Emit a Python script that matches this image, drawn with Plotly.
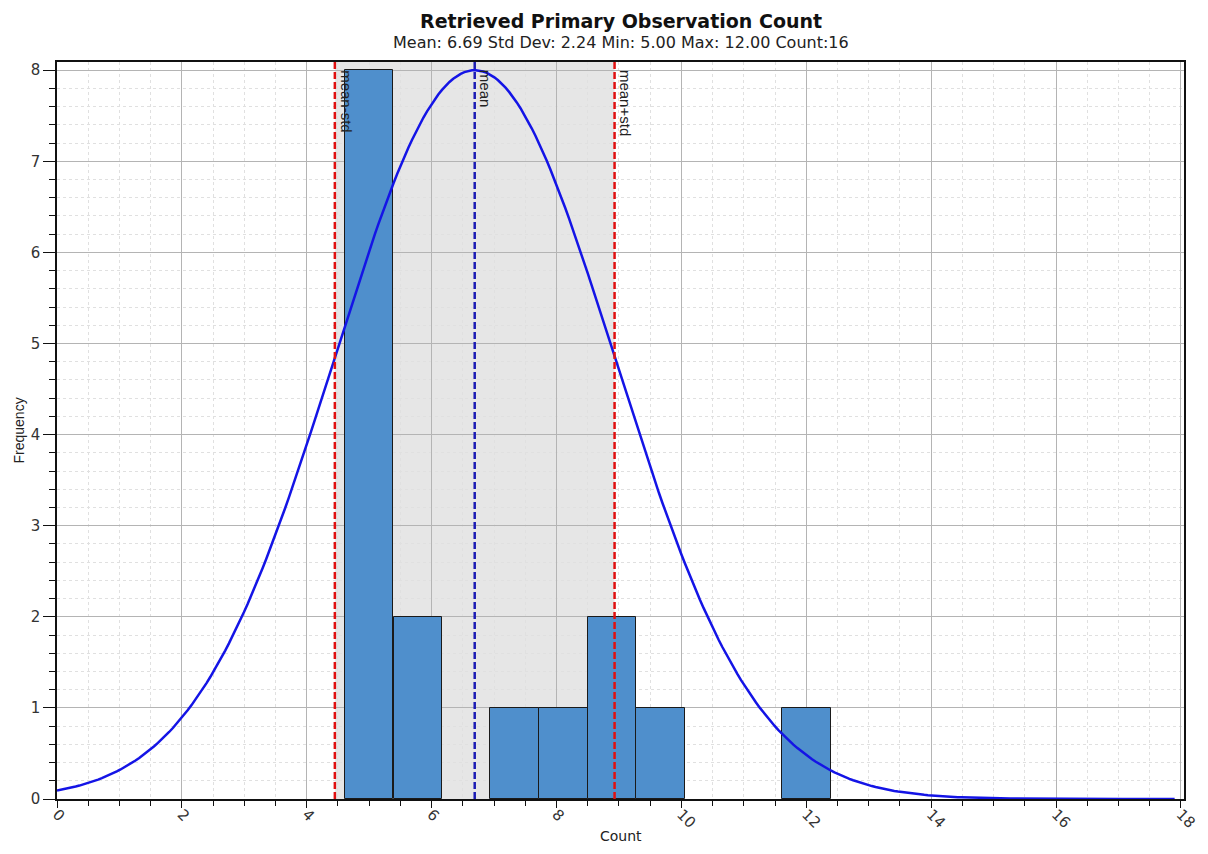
import plotly.graph_objects as go
import numpy as np

# Summary values shown in the subtitle
mean_val = 6.69
std_val = 2.24
min_val = 5.00
max_val = 12.00
n_obs = 16

# Histogram bins (centres) and frequencies
bin_centers = [5.00, 5.78, 6.56, 7.33, 8.11, 8.89, 9.67, 10.44, 11.22, 12.00]
frequencies = [8, 2, 0, 1, 1, 2, 1, 0, 0, 1]
bin_width = 7 / 9

# Fitted normal curve, scaled so the peak matches the tallest bar
curve_x = np.linspace(0, 17.9, 300)
curve_y = max(frequencies) * np.exp(-((curve_x - mean_val) ** 2) / (2 * std_val ** 2))

# the page body keeps an 8px margin, so the figure is drawn 16px smaller
W, H = 1192, 838
M_L, M_R, M_T, M_B = 49, 16, 54, 47
plot_h = H - M_T - M_B

fig = go.Figure()

fig.add_trace(go.Bar(
    x=bin_centers,
    y=frequencies,
    width=bin_width,
    marker=dict(color="#4f8fcc",
                line=dict(color="#1a1a1a", width=[1 if f > 0 else 0 for f in frequencies])),
    showlegend=False,
))

fig.add_trace(go.Scatter(
    x=curve_x,
    y=curve_y,
    mode="lines",
    line=dict(color="#1414e6", width=2.5),
    showlegend=False,
))

# shaded +/- 1 std band
fig.add_shape(type="rect", xref="x", yref="paper",
              x0=mean_val - std_val, x1=mean_val + std_val, y0=0, y1=1,
              fillcolor="#e6e6e6", line_width=0, layer="below")

lines = [
    (mean_val - std_val, "#e01010", "mean-std"),
    (mean_val, "#1c1cb4", "mean"),
    (mean_val + std_val, "#e01010", "mean+std"),
]
for xv, col, label in lines:
    fig.add_shape(type="line", xref="x", yref="paper", x0=xv, x1=xv, y0=0, y1=1,
                  line=dict(color=col, width=2.5, dash="7px,3px"), layer="above")
    fig.add_annotation(x=xv, y=1, xref="x", yref="paper", text=label,
                       textangle=90, showarrow=False, xanchor="left", yanchor="top",
                       xshift=1, yshift=-6,
                       font=dict(family="Liberation Sans Narrow, Arial Narrow, sans-serif",
                                 size=15, color="#222222"))

# title + subtitle (page y 20 / 42 -> figure y 12 / 34)
fig.add_annotation(x=0.5, y=1 + (M_T - 12.5) / plot_h, xref="paper", yref="paper",
                   text="<b>Retrieved Primary Observation Count</b>", showarrow=False,
                   yanchor="middle", font=dict(family="DejaVu Sans", size=19, color="#111111"))
fig.add_annotation(x=0.5, y=1 + (M_T - 34.5) / plot_h, xref="paper", yref="paper",
                   text=f"Mean: {mean_val:.2f} Std Dev: {std_val:.2f} Min: {min_val:.2f} "
                        f"Max: {max_val:.2f} Count:{n_obs}",
                   showarrow=False, yanchor="middle",
                   font=dict(family="DejaVu Sans", size=16, color="#222222"))

# axis titles
fig.add_annotation(x=0.5, y=0, xref="paper", yref="paper", text="Count",
                   showarrow=False, yanchor="middle", yshift=-37,
                   font=dict(family="DejaVu Sans", size=14, color="#222222"))
fig.add_annotation(x=0, y=0.5, xref="paper", yref="paper", text="Frequency",
                   showarrow=False, textangle=-90, xanchor="center", xshift=-39,
                   font=dict(family="Liberation Sans Narrow, Arial Narrow, sans-serif",
                             size=14, color="#222222"))

fig.update_layout(
    width=W, height=H,
    margin=dict(l=M_L, r=M_R, t=M_T, b=M_B),
    plot_bgcolor="white", paper_bgcolor="white",
    bargap=0,
    font=dict(family="DejaVu Sans", size=15, color="#333333"),
)

fig.update_xaxes(
    range=[0, 18.05], dtick=2, tick0=0, tickangle=45, automargin=False,
    ticklabelstandoff=-8,
    showline=True, linecolor="#111111", linewidth=1.5, mirror=True,
    ticks="outside", ticklen=7, tickcolor="#111111",
    showgrid=True, gridcolor="#b4b4b4", gridwidth=1, zeroline=False,
    minor=dict(dtick=0.5, ticks="outside", ticklen=5, tickcolor="#111111",
               showgrid=True, gridcolor="#e0e0e0", griddash="dot"),
)
fig.update_yaxes(
    range=[0, 8.09], dtick=1, tick0=0, automargin=False,
    showline=True, linecolor="#111111", linewidth=1.5, mirror=True,
    ticks="outside", ticklen=12, tickcolor="#111111",
    showgrid=True, gridcolor="#b4b4b4", gridwidth=1, zeroline=False,
    minor=dict(dtick=0.2, ticks="outside", ticklen=6, tickcolor="#111111",
               showgrid=True, gridcolor="#e0e0e0", griddash="dot"),
)

fig.write_html("out.html")
